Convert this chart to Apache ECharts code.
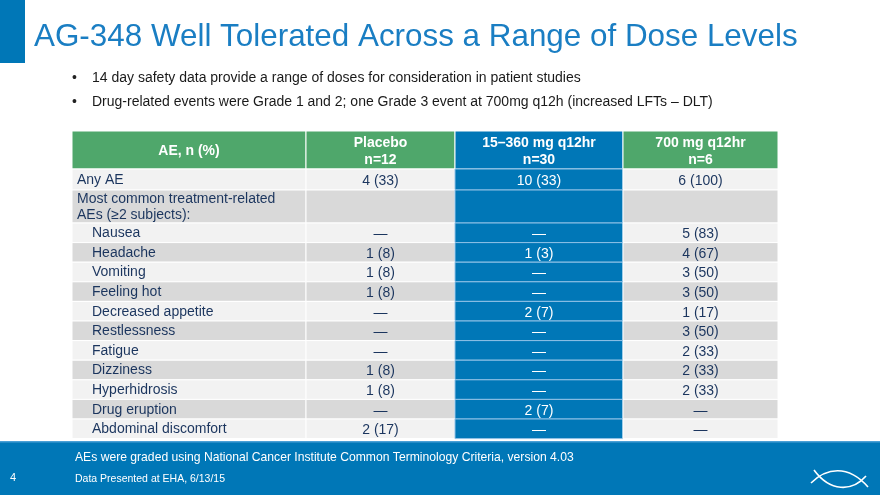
<!DOCTYPE html>
<html>
<head>
<meta charset="utf-8">
<script src="https://cdn.jsdelivr.net/npm/echarts@6/dist/echarts.min.js"></script>
<style>
html,body{margin:0;padding:0;background:#fff;}
#chart{width:880px;height:495px;}
</style>
</head>
<body>
<div id="chart"></div>
<script>
// ---- Data ----
const columnHeaders = ['AE, n (%)', 'Placebo\nn=12', '15–360 mg q12hr\nn=30', '700 mg q12hr\nn=6'];
const rowLabels = ['Any AE', 'Most common treatment-related\nAEs (≥2 subjects):', 'Nausea', 'Headache', 'Vomiting',
  'Feeling hot', 'Decreased appetite', 'Restlessness', 'Fatigue', 'Dizziness', 'Hyperhidrosis', 'Drug eruption',
  'Abdominal discomfort'];
const rowIsSubItem = [false, false, true, true, true, true, true, true, true, true, true, true, true];
const rowIsHeading = [false, true, false, false, false, false, false, false, false, false, false, false, false];
const placeboN   = [4,  null, null, 1,    1,    1,    null, null, null, 1,    1,    null, 2];
const placeboPct = [33, null, null, 8,    8,    8,    null, null, null, 8,    8,    null, 17];
const lowMidN    = [10, null, null, 1,    null, null, 2,    null, null, null, null, 2,    null];
const lowMidPct  = [33, null, null, 3,    null, null, 7,    null, null, null, null, 7,    null];
const highN      = [6,   null, 5,  4,  3,  3,  1,  3,  2,  2,  2,  null, null];
const highPct    = [100, null, 83, 67, 50, 50, 17, 50, 33, 33, 33, null, null];
const titleText = 'AG-348 Well Tolerated Across a Range of Dose Levels';
const bullets = ['14 day safety data provide a range of doses for consideration in patient studies',
  'Drug-related events were Grade 1 and 2; one Grade 3 event at 700mg q12h (increased LFTs – DLT)'];
const footnote = 'AEs were graded using National Cancer Institute Common Terminology Criteria, version 4.03';
const sourceNote = 'Data Presented at EHA, 6/13/15';
const slideNumber = '4';

// ---- Layout (not data) ----
const colEdges = [0, 234, 383, 551, 706];
const rowHeights = [38, 21, 33].concat(new Array(11).fill(19.6));
const rowEdges = [0];
rowHeights.forEach(h => rowEdges.push(rowEdges[rowEdges.length - 1] + h));
const tableTotal = rowEdges[rowEdges.length - 1];

const GREEN = '#4fa76b', BLUE = '#0077b7', LIGHT = '#f2f2f2', DARK = '#d9d9d9', NAVY = '#1b355e';
const FONT = '"Liberation Sans", Arial, sans-serif';

const valueCols = [[placeboN, placeboPct], [lowMidN, lowMidPct], [highN, highPct]];
function cellText(c, r) {
  if (r === 0) return columnHeaders[c];
  const i = r - 1;
  if (c === 0) return rowLabels[i];
  if (rowIsHeading[i]) return '';
  const [ns, ps] = valueCols[c - 1];
  return ns[i] == null ? '—' : ns[i] + ' (' + ps[i] + ')';
}

const cells = [];
for (let r = 0; r <= rowLabels.length; r++)
  for (let c = 0; c < columnHeaders.length; c++) cells.push([c, r]);

function renderItem(params, api) {
  const c = api.value(0), r = api.value(1);
  const p0 = api.coord([colEdges[c], rowEdges[r]]);
  const p1 = api.coord([colEdges[c + 1], rowEdges[r + 1]]);
  const x = p0[0], y = p0[1], w = p1[0] - p0[0], h = p1[1] - p0[1];
  let fill, stroke = '#ffffff', txtColor = NAVY, bold = false;
  if (r === 0) { fill = c === 2 ? BLUE : GREEN; txtColor = '#ffffff'; bold = true; }
  else if (c === 2) { fill = BLUE; txtColor = '#ffffff'; stroke = '#8fc1e6'; }
  else fill = ((r - 1) % 2 === 0) ? LIGHT : DARK;
  const txt = cellText(c, r);
  let tx, align;
  if (c === 0 && r > 0) { align = 'left'; tx = x + 5 + (rowIsSubItem[r - 1] ? 15 : 0); }
  else { align = 'center'; tx = x + w / 2; }
  let ty = y + h / 2;
  if (r === 0) ty += 1.5;
  else if (c > 0) ty += 1.5;
  else ty += 0.5;
  return {
    type: 'group',
    children: [
      { type: 'rect', shape: { x: x, y: y, width: w, height: h },
        style: { fill: fill, stroke: stroke, lineWidth: 1 } },
      { type: 'text', style: { text: txt, x: tx, y: ty, align: align, verticalAlign: 'middle',
        fill: txtColor, fontFamily: FONT, fontSize: 14, fontWeight: bold ? 'bold' : 'normal',
        lineHeight: 16.5 } }
    ]
  };
}

function txt(x, y, s, size, color) {
  return { type: 'text', x: x, y: y, style: { text: s, fill: color, fontFamily: FONT, fontSize: size,
    verticalAlign: 'middle', align: 'left' } };
}

const chart = echarts.init(document.getElementById('chart'), null, { renderer: 'canvas' });
chart.setOption({
  animation: false,
  backgroundColor: '#ffffff',
  grid: { left: 72, top: 131, width: 706, height: tableTotal },
  xAxis: { type: 'value', min: 0, max: 706, show: false },
  yAxis: { type: 'value', min: 0, max: tableTotal, inverse: true, show: false },
  series: [{ type: 'custom', renderItem: renderItem, data: cells, silent: true, clip: false }],
  graphic: [
    { type: 'rect', shape: { x: 0, y: 0, width: 25, height: 63 }, style: { fill: BLUE } },
    txt(34, 37, titleText, 31.4, '#1a7ec3'),
    txt(72, 78, '•', 14, '#222'),
    txt(92, 78, bullets[0], 14, '#1a1a1a'),
    txt(72, 102, '•', 14, '#222'),
    txt(92, 102, bullets[1], 14, '#1a1a1a'),
    { type: 'rect', shape: { x: 0, y: 441, width: 880, height: 54 }, style: { fill: BLUE } },
    { type: 'rect', shape: { x: 0, y: 441, width: 880, height: 1.5 }, style: { fill: '#4aa0d6' } },
    txt(75, 458, footnote, 12.15, '#fff'),
    txt(75, 479, sourceNote, 10.5, '#fff'),
    txt(10, 478, slideNumber, 11, '#fff'),
    { type: 'bezierCurve', shape: { x1: 811, y1: 483, cpx1: 826, cpy1: 468, cpx2: 848, cpy2: 464, x2: 868, y2: 487 },
      style: { fill: null, stroke: '#fff', lineWidth: 1.6 } },
    { type: 'bezierCurve', shape: { x1: 814, y1: 470, cpx1: 830, cpy1: 492, cpx2: 852, cpy2: 492, x2: 866, y2: 476 },
      style: { fill: null, stroke: '#fff', lineWidth: 1.6 } }
  ]
});
</script>
</body>
</html>
